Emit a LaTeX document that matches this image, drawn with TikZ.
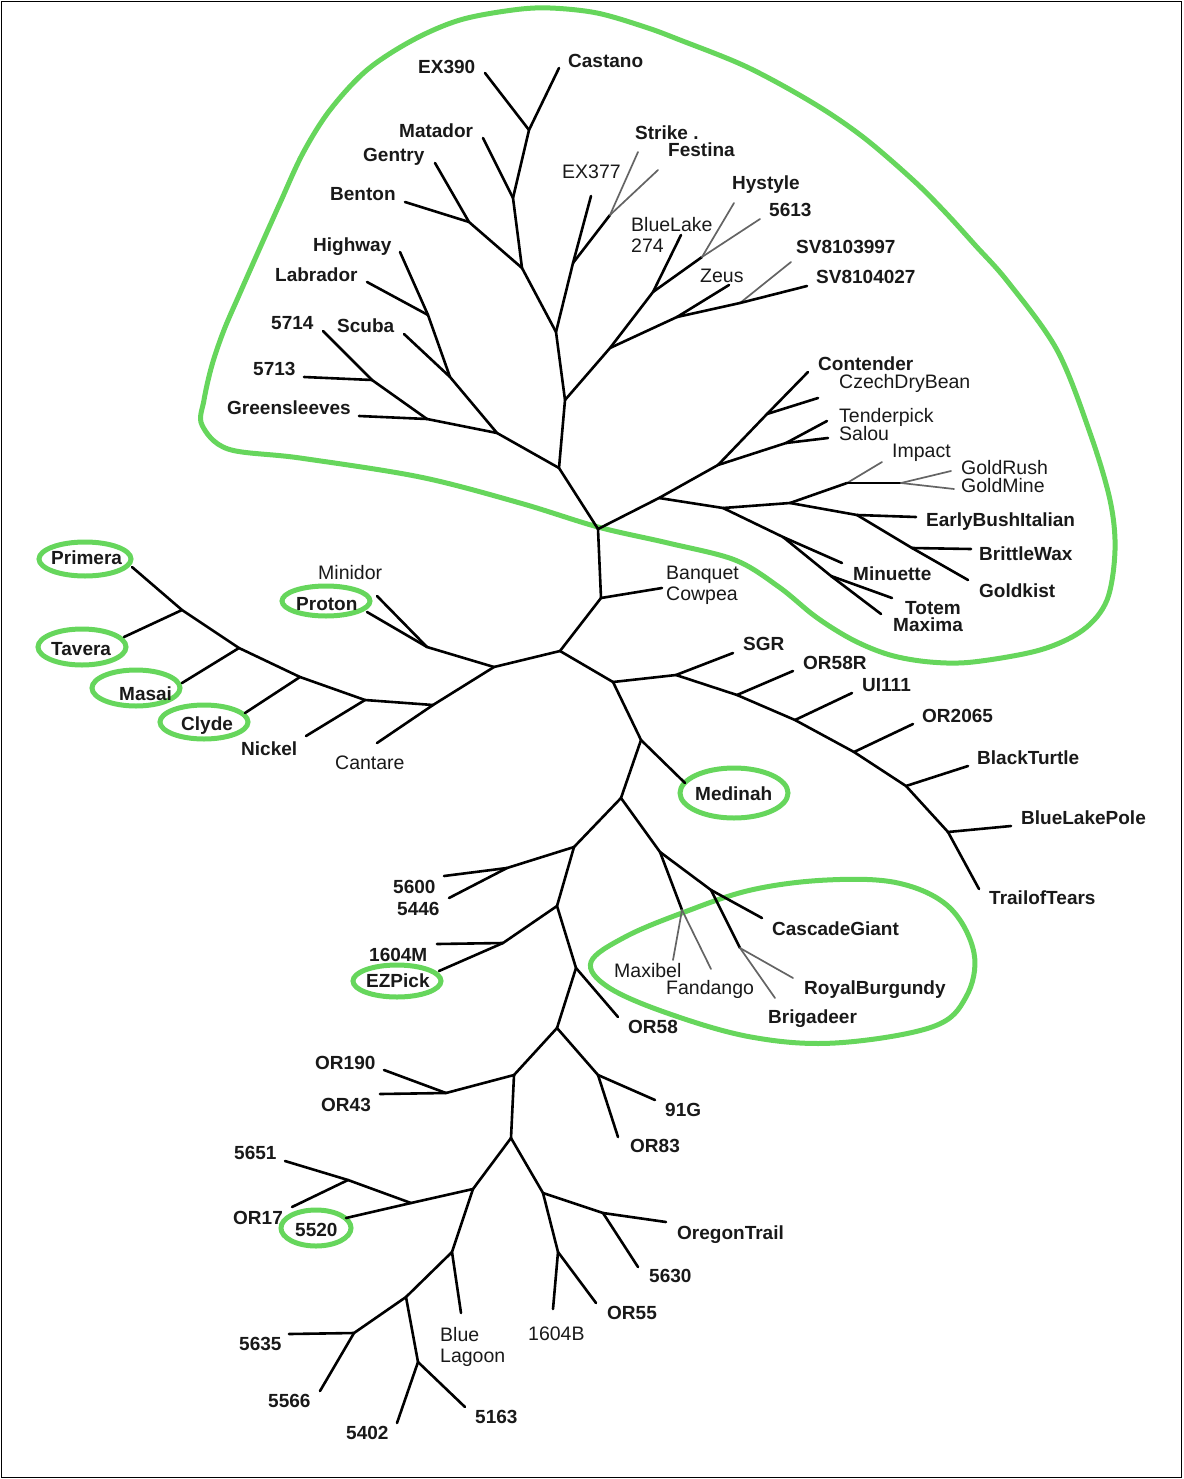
\documentclass[tikz,border=0pt]{standalone}
\usepackage{fontspec}
\setmainfont{Liberation Sans}
\definecolor{hlgreen}{RGB}{102,214,92}
\definecolor{lgray}{RGB}{100,100,100}
\definecolor{txt}{RGB}{25,25,25}
\begin{document}
\begin{tikzpicture}[x=1pt,y=-1pt,
  br/.style={line width=2.6pt,line cap=round,line join=round,black},
  gbr/.style={line width=1.7pt,line cap=round,lgray},
  hl/.style={draw=hlgreen,line width=5pt},
  lb/.style={font=\fontsize{19}{21}\selectfont\bfseries,text=txt,anchor=mid west,inner sep=0pt,yshift=-4.5pt},
  lr/.style={font=\fontsize{19.5}{21}\selectfont,text=txt,anchor=mid west,inner sep=0pt,yshift=-4.5pt}]
\useasboundingbox (0,0) rectangle (1183,1479);
\draw[line width=1.5pt] (1.5,1.5) rectangle (1181.5,1477.5);

% ---------- green outlines ----------
\draw[hl] plot[smooth cycle,tension=0.55] coordinates {
 (202,425) (204,400) (212,365) (224,330) (240,293) (259,250) (280,203) (303,153) (330,110)
 (367,70) (413,40) (460,20) (513,10) (550,8) (597,13) (645,27) (680,40) (747,67)
 (813,103) (863,137) (913,180) (945,212) (975,245) (1008,282) (1057,350) (1090,433)
 (1110,500) (1115,550) (1107,600) (1083,630) (1040,650) (973,662) (930,662)
 (890,655) (853,640) (816,617) (779,587) (735,560) (668,543) (598,527) (520,503)
 (420,477) (300,458) (228,449)};
\draw[hl] plot[smooth cycle,tension=0.6] coordinates {
 (591,962) (625,937) (682,913) (751,890) (827,880) (898,883) (949,907) (974,953)
 (966,997) (932,1027) (835,1043) (751,1037) (667,1013) (608,987)};
\draw[hl] (85,559) ellipse [x radius=46,y radius=17];
\draw[hl] (82,647) ellipse [x radius=44,y radius=18];
\draw[hl] (136,688) ellipse [x radius=44,y radius=18];
\draw[hl] (204,722) ellipse [x radius=44,y radius=17];
\draw[hl] (326,601) ellipse [x radius=44,y radius=15];
\draw[hl] (734,793) ellipse [x radius=54,y radius=25];
\draw[hl] (397,981) ellipse [x radius=44,y radius=16];
\draw[hl] (316,1228) ellipse [x radius=35,y radius=18];

% ---------- coordinates ----------
% trunk
\coordinate (tA) at (598,529); \coordinate (tB) at (601,598); \coordinate (tC) at (560,651);
\coordinate (Banq) at (662,588);
% upper
\coordinate (u1) at (559,468); \coordinate (u2) at (565,400); \coordinate (u3) at (556,332);
\coordinate (u4) at (522,268); \coordinate (u5) at (513,198); \coordinate (u6) at (529,130);
\coordinate (u7) at (469,222); \coordinate (u8) at (573,263); \coordinate (u9) at (610,215);
\coordinate (EX390) at (485,73); \coordinate (Castano) at (559,68); \coordinate (Matador) at (483,138);
\coordinate (Gentry) at (435,163); \coordinate (Benton) at (405,202); \coordinate (EX377) at (591,196);
\coordinate (Strike) at (638,152); \coordinate (Festina) at (658,170);
\coordinate (r1) at (610,348); \coordinate (r2) at (653,292); \coordinate (r3) at (702,257);
\coordinate (r4) at (677,317); \coordinate (r5) at (740,303);
\coordinate (BlueLake) at (681,235); \coordinate (Hystyle) at (734,203); \coordinate (F5613) at (760,219);
\coordinate (Zeus) at (729,285); \coordinate (SVa) at (791,262); \coordinate (SVb) at (807,286);
\coordinate (g1) at (497,433); \coordinate (g2) at (427,419); \coordinate (g3) at (450,377);
\coordinate (g4) at (428,315); \coordinate (g5) at (372,380);
\coordinate (Scuba) at (404,334); \coordinate (Highway) at (400,252); \coordinate (Labrador) at (367,282);
\coordinate (Greens) at (359,416); \coordinate (F5714) at (323,331); \coordinate (F5713) at (304,377);
% contender group
\coordinate (c1) at (659,498); \coordinate (c2) at (718,465); \coordinate (c3) at (767,414);
\coordinate (c4) at (786,443); \coordinate (c5) at (723,508); \coordinate (c6) at (790,503);
\coordinate (c7) at (847,483); \coordinate (c8) at (901,483); \coordinate (c9) at (857,515);
\coordinate (c10) at (912,548); \coordinate (c11) at (783,537); \coordinate (c12) at (831,576);
\coordinate (Contender) at (808,372); \coordinate (Czech) at (818,398); \coordinate (Tender) at (827,421);
\coordinate (Salou) at (828,438); \coordinate (Impact) at (882,462); \coordinate (GoldRush) at (951,471);
\coordinate (GoldMine) at (954,489); \coordinate (Early) at (916,517); \coordinate (Brittle) at (971,549);
\coordinate (Goldkist) at (968,580); \coordinate (Minuette) at (842,563); \coordinate (Totem) at (892,598);
\coordinate (Maxima) at (881,614);
% left group
\coordinate (p1) at (494,667); \coordinate (p2) at (427,647); \coordinate (p3) at (433,705);
\coordinate (p4) at (365,700); \coordinate (p5) at (300,677); \coordinate (p6) at (239,648);
\coordinate (p7) at (182,610);
\coordinate (Proton) at (367,612); \coordinate (Minidor) at (377,596); \coordinate (Cantare) at (377,743);
\coordinate (Nickel) at (306,736); \coordinate (Clyde) at (245,713); \coordinate (Masai) at (182,683);
\coordinate (Tavera) at (124,637); \coordinate (Primera) at (132,567);
% right group
\coordinate (q1) at (613,682); \coordinate (q2) at (676,675); \coordinate (q3) at (737,695);
\coordinate (q4) at (795,720); \coordinate (q5) at (854,752); \coordinate (q6) at (906,786);
\coordinate (q7) at (948,832);
\coordinate (SGR) at (733,653); \coordinate (OR58R) at (793,671); \coordinate (UI111) at (852,693);
\coordinate (OR2065) at (913,724); \coordinate (BlackT) at (968,766); \coordinate (BLPole) at (1011,826);
\coordinate (Trail) at (979,889);
% lower
\coordinate (m1) at (641,740); \coordinate (m2) at (621,798); \coordinate (Medinah) at (685,783);
\coordinate (n1) at (660,852); \coordinate (n2) at (682,910); \coordinate (n3) at (711,890);
\coordinate (n4) at (740,948);
\coordinate (Maxibel) at (673,960); \coordinate (Fandango) at (711,969); \coordinate (Cascade) at (762,918);
\coordinate (Royal) at (793,978); \coordinate (Brig) at (775,998);
\coordinate (k1) at (574,847); \coordinate (k2) at (507,868); \coordinate (k3) at (557,906);
\coordinate (k4) at (503,943); \coordinate (k5) at (576,968); \coordinate (k6) at (557,1028);
\coordinate (k7) at (514,1075); \coordinate (k8) at (446,1093); \coordinate (k9) at (598,1075);
\coordinate (k10) at (511,1138); \coordinate (k11) at (473,1189); \coordinate (k12) at (411,1203);
\coordinate (k13) at (348,1180); \coordinate (k14) at (452,1252); \coordinate (k15) at (406,1297);
\coordinate (k16) at (354,1333); \coordinate (k17) at (418,1362); \coordinate (k18) at (543,1193);
\coordinate (k19) at (558,1252); \coordinate (k20) at (603,1213);
\coordinate (F5600) at (444,876); \coordinate (F5446) at (449,898); \coordinate (F1604M) at (437,944);
\coordinate (EZPick) at (439,971); \coordinate (OR58) at (618,1017); \coordinate (OR190) at (384,1070);
\coordinate (OR43) at (380,1094); \coordinate (G91) at (655,1100); \coordinate (OR83) at (618,1137);
\coordinate (F5651) at (285,1161); \coordinate (OR17) at (292,1207); \coordinate (F5520) at (346,1218);
\coordinate (BLagoon) at (461,1313); \coordinate (F5635) at (289,1334); \coordinate (F5566) at (320,1391);
\coordinate (F5402) at (397,1423); \coordinate (F5163) at (465,1407); \coordinate (F1604B) at (553,1309);
\coordinate (OR55) at (596,1303); \coordinate (Oregon) at (666,1222); \coordinate (F5630) at (638,1267);

% ---------- branches ----------
\draw[br] (tA) -- (u1); \draw[br] (u1) -- (u2); \draw[br] (u2) -- (u3); \draw[br] (u3) -- (u4);
\draw[br] (u4) -- (u5); \draw[br] (u5) -- (u6); \draw[br] (u6) -- (EX390); \draw[br] (u6) -- (Castano);
\draw[br] (u5) -- (Matador); \draw[br] (u4) -- (u7); \draw[br] (u7) -- (Gentry); \draw[br] (u7) -- (Benton);
\draw[br] (u3) -- (u8); \draw[br] (u8) -- (EX377); \draw[br] (u8) -- (u9);
\draw[gbr] (u9) -- (Strike); \draw[gbr] (u9) -- (Festina);
\draw[br] (u2) -- (r1); \draw[br] (r1) -- (r2); \draw[br] (r2) -- (BlueLake); \draw[br] (r2) -- (r3);
\draw[gbr] (r3) -- (Hystyle); \draw[gbr] (r3) -- (F5613);
\draw[br] (r1) -- (r4); \draw[br] (r4) -- (Zeus); \draw[br] (r4) -- (r5);
\draw[gbr] (r5) -- (SVa); \draw[br] (r5) -- (SVb);
\draw[br] (u1) -- (g1); \draw[br] (g1) -- (g3); \draw[br] (g3) -- (Scuba); \draw[br] (g3) -- (g4);
\draw[br] (g4) -- (Highway); \draw[br] (g4) -- (Labrador); \draw[br] (g1) -- (g2);
\draw[br] (g2) -- (Greens); \draw[br] (g2) -- (g5); \draw[br] (g5) -- (F5714); \draw[br] (g5) -- (F5713);

\draw[br] (tA) -- (c1); \draw[br] (c1) -- (c2); \draw[br] (c2) -- (c3); \draw[br] (c3) -- (Contender);
\draw[br] (c3) -- (Czech); \draw[br] (c2) -- (c4); \draw[br] (c4) -- (Tender); \draw[br] (c4) -- (Salou);
\draw[br] (c1) -- (c5); \draw[br] (c5) -- (c6); \draw[br] (c6) -- (c7); \draw[gbr] (c7) -- (Impact);
\draw[br] (c7) -- (c8); \draw[gbr] (c8) -- (GoldRush); \draw[gbr] (c8) -- (GoldMine);
\draw[br] (c6) -- (c9); \draw[br] (c9) -- (Early); \draw[br] (c9) -- (c10); \draw[br] (c10) -- (Brittle);
\draw[br] (c10) -- (Goldkist); \draw[br] (c5) -- (c11); \draw[br] (c11) -- (Minuette);
\draw[br] (c11) -- (c12); \draw[br] (c12) -- (Totem); \draw[br] (c12) -- (Maxima);

\draw[br] (tA) -- (tB); \draw[br] (tB) -- (Banq); \draw[br] (tB) -- (tC);

\draw[br] (tC) -- (p1); \draw[br] (p1) -- (p2); \draw[br] (p2) -- (Proton); \draw[br] (p2) -- (Minidor);
\draw[br] (p1) -- (p3); \draw[br] (p3) -- (Cantare); \draw[br] (p3) -- (p4); \draw[br] (p4) -- (Nickel);
\draw[br] (p4) -- (p5); \draw[br] (p5) -- (Clyde); \draw[br] (p5) -- (p6); \draw[br] (p6) -- (Masai);
\draw[br] (p6) -- (p7); \draw[br] (p7) -- (Tavera); \draw[br] (p7) -- (Primera);

\draw[br] (tC) -- (q1); \draw[br] (q1) -- (q2); \draw[br] (q2) -- (SGR); \draw[br] (q2) -- (q3);
\draw[br] (q3) -- (OR58R); \draw[br] (q3) -- (q4); \draw[br] (q4) -- (UI111); \draw[br] (q4) -- (q5);
\draw[br] (q5) -- (OR2065); \draw[br] (q5) -- (q6); \draw[br] (q6) -- (BlackT); \draw[br] (q6) -- (q7);
\draw[br] (q7) -- (BLPole); \draw[br] (q7) -- (Trail);

\draw[br] (q1) -- (m1); \draw[br] (m1) -- (Medinah); \draw[br] (m1) -- (m2);
\draw[br] (m2) -- (n1); \draw[br] (n1) -- (n2); \draw[gbr] (n2) -- (Maxibel); \draw[gbr] (n2) -- (Fandango);
\draw[br] (n1) -- (n3); \draw[br] (n3) -- (Cascade); \draw[br] (n3) -- (n4);
\draw[gbr] (n4) -- (Royal); \draw[gbr] (n4) -- (Brig);

\draw[br] (m2) -- (k1); \draw[br] (k1) -- (k2); \draw[br] (k2) -- (F5600); \draw[br] (k2) -- (F5446);
\draw[br] (k1) -- (k3); \draw[br] (k3) -- (k4); \draw[br] (k4) -- (F1604M); \draw[br] (k4) -- (EZPick);
\draw[br] (k3) -- (k5); \draw[br] (k5) -- (OR58); \draw[br] (k5) -- (k6);
\draw[br] (k6) -- (k7); \draw[br] (k7) -- (k8); \draw[br] (k8) -- (OR190); \draw[br] (k8) -- (OR43);
\draw[br] (k6) -- (k9); \draw[br] (k9) -- (G91); \draw[br] (k9) -- (OR83);
\draw[br] (k7) -- (k10); \draw[br] (k10) -- (k11); \draw[br] (k11) -- (k12); \draw[br] (k12) -- (k13);
\draw[br] (k13) -- (F5651); \draw[br] (k13) -- (OR17); \draw[br] (k12) -- (F5520);
\draw[br] (k11) -- (k14); \draw[br] (k14) -- (BLagoon); \draw[br] (k14) -- (k15);
\draw[br] (k15) -- (k16); \draw[br] (k16) -- (F5635); \draw[br] (k16) -- (F5566);
\draw[br] (k15) -- (k17); \draw[br] (k17) -- (F5402); \draw[br] (k17) -- (F5163);
\draw[br] (k10) -- (k18); \draw[br] (k18) -- (k19); \draw[br] (k19) -- (F1604B); \draw[br] (k19) -- (OR55);
\draw[br] (k18) -- (k20); \draw[br] (k20) -- (Oregon); \draw[br] (k20) -- (F5630);

% ---------- labels ----------
\node[lb] (tEX390) at (418,66) {EX390};
\node[lb] (tCastano) at (568,60) {Castano};
\node[lb] (tMatador) at (399,130) {Matador};
\node[lb] (tGentry) at (363,154) {Gentry};
\node[lb] (tBenton) at (330,193) {Benton};
\node[lb] (tHighway) at (313,244) {Highway};
\node[lb] (tLabrador) at (275,274) {Labrador};
\node[lb] (t5714) at (271,322) {5714};
\node[lb] (tScuba) at (337,325) {Scuba};
\node[lb] (t5713) at (253,368) {5713};
\node[lb] (tGreens) at (227,407) {Greensleeves};
\node[lr] (tEX377) at (562,171) {EX377};
\node[lb] (tStrike) at (635,132) {Strike .};
\node[lb] (tFestina) at (668,149) {Festina};
\node[lr] (tBlueLake) at (631,224) {BlueLake};
\node[lr] (t274) at (631,245) {274};
\node[lb] (tHystyle) at (732,182) {Hystyle};
\node[lb] (t5613) at (769,209) {5613};
\node[lr] (tZeus) at (700,275) {Zeus};
\node[lb] (tSVa) at (796,246) {SV8103997};
\node[lb] (tSVb) at (816,276) {SV8104027};
\node[lb] (tContender) at (818,363) {Contender};
\node[lr] (tCzech) at (839,381) {CzechDryBean};
\node[lr] (tTender) at (839,415) {Tenderpick};
\node[lr] (tSalou) at (839,433) {Salou};
\node[lr] (tImpact) at (892,450) {Impact};
\node[lr] (tGoldRush) at (961,467) {GoldRush};
\node[lr] (tGoldMine) at (961,485) {GoldMine};
\node[lb] (tEarly) at (926,519) {EarlyBushItalian};
\node[lb] (tBrittle) at (979,553) {BrittleWax};
\node[lb] (tGoldkist) at (979,590) {Goldkist};
\node[lb] (tMinuette) at (853,573) {Minuette};
\node[lb] (tTotem) at (905,607) {Totem};
\node[lb] (tMaxima) at (893,624) {Maxima};
\node[lr] (tBanquet) at (666,572) {Banquet};
\node[lr] (tCowpea) at (666,593) {Cowpea};
\node[lb] (tPrimera) at (51,557) {Primera};
\node[lb] (tTavera) at (51,648) {Tavera};
\node[lb] (tMasai) at (119,693) {Masai};
\node[lb] (tClyde) at (181,723) {Clyde};
\node[lb] (tNickel) at (241,748) {Nickel};
\node[lr] (tCantare) at (335,762) {Cantare};
\node[lr] (tMinidor) at (318,572) {Minidor};
\node[lb] (tProton) at (296,603) {Proton};
\node[lb] (tSGR) at (743,643) {SGR};
\node[lb] (tOR58R) at (803,662) {OR58R};
\node[lb] (tUI111) at (862,684) {UI111};
\node[lb] (tOR2065) at (922,715) {OR2065};
\node[lb] (tBlackT) at (977,757) {BlackTurtle};
\node[lb] (tBLPole) at (1021,817) {BlueLakePole};
\node[lb] (tTrail) at (989,897) {TrailofTears};
\node[lb] (tMedinah) at (695,793) {Medinah};
\node[lb] (tCascade) at (772,928) {CascadeGiant};
\node[lb] (tRoyal) at (804,987) {RoyalBurgundy};
\node[lb] (tBrig) at (768,1016) {Brigadeer};
\node[lr] (tMaxibel) at (614,970) {Maxibel};
\node[lr] (tFandango) at (666,987) {Fandango};
\node[lb] (t5600) at (393,886) {5600};
\node[lb] (t5446) at (397,908) {5446};
\node[lb] (t1604M) at (369,954) {1604M};
\node[lb] (tEZPick) at (366,980) {EZPick};
\node[lb] (tOR58) at (628,1026) {OR58};
\node[lb] (tOR190) at (315,1062) {OR190};
\node[lb] (tOR43) at (321,1104) {OR43};
\node[lb] (t91G) at (665,1109) {91G};
\node[lb] (tOR83) at (630,1145) {OR83};
\node[lb] (t5651) at (234,1152) {5651};
\node[lb] (tOR17) at (233,1217) {OR17};
\node[lb] (t5520) at (295,1229) {5520};
\node[lb] (tOregon) at (677,1232) {OregonTrail};
\node[lb] (t5630) at (649,1275) {5630};
\node[lb] (tOR55) at (607,1312) {OR55};
\node[lr] (t1604B) at (528,1333) {1604B};
\node[lr] (tBlue) at (440,1334) {Blue};
\node[lr] (tLagoon) at (440,1355) {Lagoon};
\node[lb] (t5635) at (239,1343) {5635};
\node[lb] (t5566) at (268,1400) {5566};
\node[lb] (t5402) at (346,1432) {5402};
\node[lb] (t5163) at (475,1416) {5163};
\end{tikzpicture}
\end{document}
